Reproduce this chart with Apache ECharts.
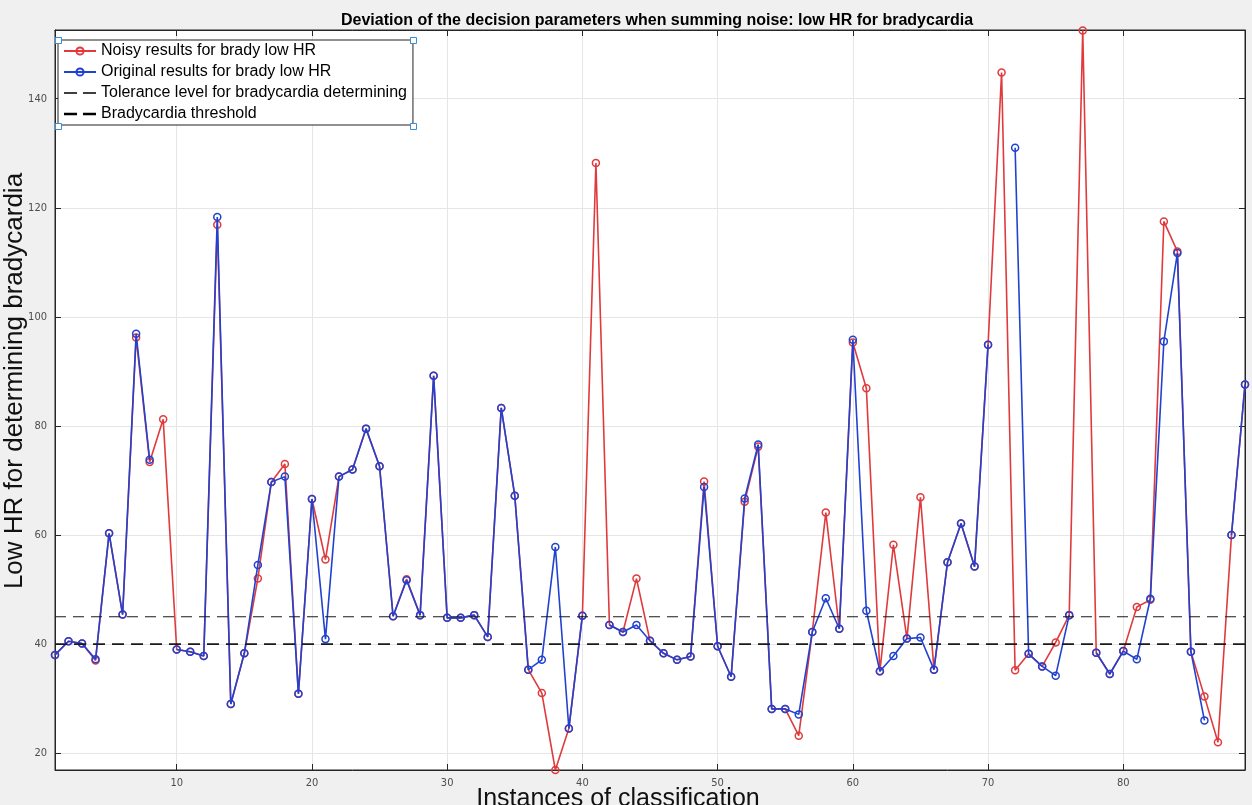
<!DOCTYPE html>
<html>
<head>
<meta charset="utf-8">
<script src="https://cdn.jsdelivr.net/npm/echarts@6/dist/echarts.min.js"></script>
<style>
html,body{margin:0;padding:0;background:#f0f0f0;}
#chart{width:1252px;height:805px;}
</style>
</head>
<body>
<div id="chart"></div>
<script>
const instances = [1,2,3,4,5,6,7,8,9,10,11,12,13,14,15,16,17,18,19,20,21,22,23,24,25,26,27,28,29,30,31,32,33,34,35,36,37,38,39,40,41,42,43,44,45,46,47,48,49,50,51,52,53,54,55,56,57,58,59,60,61,62,63,64,65,66,67,68,69,70,71,72,73,74,75,76,77,78,79,80,81,82,83,84,85,86,87,88,89];

const noisyHR = [38.0,40.5,40.1,37.0,60.3,45.4,96.2,73.4,81.2,39.0,
  38.6,37.8,116.9,29.0,38.3,52.0,69.7,73.0,30.9,66.6,
  55.5,70.7,72.0,79.5,72.6,45.1,51.9,45.3,89.2,44.8,
  44.8,45.3,41.3,83.3,67.2,35.3,31.0,16.9,24.5,45.2,
  128.2,43.5,42.2,52.0,40.6,38.3,37.1,37.7,69.8,39.6,
  34.0,66.1,76.2,28.1,28.1,23.2,42.2,64.1,42.8,95.3,
  86.9,35.0,58.2,41.0,66.9,35.3,55.0,62.1,54.2,94.9,
  144.8,35.2,38.2,35.9,40.3,45.3,152.5,38.4,34.5,38.7,
  46.8,48.1,117.5,112.0,38.6,30.4,22.0,60.0,87.6];

const originalHR = [38.0,40.5,40.1,37.2,60.3,45.4,96.9,73.8,null,39.0,
  38.6,37.8,118.3,29.0,38.3,54.5,69.7,70.7,30.9,66.6,
  40.9,70.7,72.0,79.5,72.6,45.1,51.7,45.3,89.2,44.8,
  44.8,45.3,41.3,83.3,67.2,35.3,37.1,57.8,24.5,45.2,
  null,43.5,42.2,43.5,40.6,38.3,37.1,37.7,68.8,39.6,
  34.0,66.7,76.6,28.1,28.1,27.1,42.2,48.4,42.8,95.8,
  46.1,35.0,37.8,41.0,41.2,35.3,55.0,62.1,54.2,94.9,
  null,131.0,38.2,35.9,34.2,45.3,null,38.4,34.5,38.7,
  37.2,48.3,95.5,111.7,38.6,26.0,null,60.0,87.6];

const toleranceLevel = 45;
const bradyThreshold = 40;
const yRange = [16.9, 152.6];
const xRange = [1, 89];

const seriesNames = [
  'Noisy results for brady low HR',
  'Original results for brady low HR',
  'Tolerance level for bradycardia determining',
  'Bradycardia threshold'
];
const titleText = 'Deviation of the decision parameters when summing noise: low HR for bradycardia';
const xLabel = 'Instances of classification';
const yLabel = 'Low HR for determining bradycardia';

const RED = '#e03a3c';
const BLUE = '#2142d0';

function pairs(vals){ return instances.map((x,i)=>[x, vals[i]==null ? '-' : vals[i]]); }
function hline(v){ return [[xRange[0], v],[xRange[1], v]]; }

const tickFont = "'Liberation Sans Narrow','DejaVu Sans Condensed','Liberation Sans',sans-serif";
const mainFont = "'Liberation Sans',Arial,sans-serif";
const AX = '#262626';

const chart = echarts.init(document.getElementById('chart'), null, {renderer:'canvas'});
const option = {
  animation: false,
  backgroundColor: '#f0f0f0',
  title: {
    text: titleText,
    left: 336, top: 8,
    textStyle: {fontFamily:mainFont, fontWeight:'bold', fontSize:16, color:'#000'}
  },
  grid: {left:55, right:7, top:30, bottom:35, show:true, backgroundColor:'#ffffff',
         borderColor:AX, borderWidth:1, containLabel:false, outerBoundsMode:'none'},
  legend: {
    orient:'vertical', left:58, top:40,
    padding:[3,6,3,5], itemGap:5, itemWidth:32, itemHeight:9,
    backgroundColor:'#ffffff', borderColor:'#222', borderWidth:1,
    textStyle:{fontFamily:mainFont, fontSize:16, color:'#000'},
    data: [
      {name: seriesNames[0]},
      {name: seriesNames[1]},
      {name: seriesNames[2], icon:'path://M0,0H11V1.3H0Z M16,0H27V1.3H16Z', itemStyle:{color:'#000'}},
      {name: seriesNames[3], icon:'path://M0,0H11V2.2H0Z M16,0H27V2.2H16Z', itemStyle:{color:'#000'}}
    ]
  },
  xAxis: [{
    type:'value', min:xRange[0], max:xRange[1], splitNumber:9,
    axisLine:{show:true, lineStyle:{color:AX}},
    axisTick:{show:true, inside:true, length:6, lineStyle:{color:AX}},
    axisLabel:{showMinLabel:false, showMaxLabel:false, fontFamily:tickFont, fontSize:11, color:'#4d4d4d', margin:8},
    splitLine:{show:true, lineStyle:{color:'#e6e6e6', width:1}},
    name: xLabel, nameLocation:'middle', nameGap:17, nameMoveOverlap:false,
    nameTextStyle:{fontFamily:mainFont, fontSize:25, color:'#111', padding:[0,64,0,0]}
  },{
    type:'value', position:'top', min:xRange[0], max:xRange[1], splitNumber:9,
    axisLine:{show:true, lineStyle:{color:AX}},
    axisTick:{show:true, inside:true, length:6, lineStyle:{color:AX}},
    axisLabel:{show:false}, splitLine:{show:false}
  }],
  yAxis: [{
    type:'value', min:yRange[0], max:yRange[1], splitNumber:7,
    axisLine:{show:true, lineStyle:{color:AX}},
    axisTick:{show:true, inside:true, length:6, lineStyle:{color:AX}},
    axisLabel:{showMinLabel:false, showMaxLabel:false, fontFamily:tickFont, fontSize:11, color:'#4d4d4d', margin:8},
    splitLine:{show:true, lineStyle:{color:'#e6e6e6', width:1}},
    name: yLabel, nameLocation:'middle', nameGap:27, nameMoveOverlap:false,
    nameTextStyle:{fontFamily:mainFont, fontSize:26, color:'#111', padding:[0,0,0,38]}
  },{
    type:'value', position:'right', min:yRange[0], max:yRange[1], splitNumber:7,
    axisLine:{show:true, lineStyle:{color:AX}},
    axisTick:{show:true, inside:true, length:6, lineStyle:{color:AX}},
    axisLabel:{show:false}, splitLine:{show:false}
  }],
  series: [
    {
      name: seriesNames[0], type:'line', data: pairs(noisyHR),
      symbol:'circle', symbolSize:7, showAllSymbol:true, connectNulls:false,
      lineStyle:{color:RED, width:1.6},
      itemStyle:{color:'rgba(255,255,255,0)', borderColor:RED, borderWidth:1.5},
      z:2
    },
    {
      name: seriesNames[1], type:'line', data: pairs(originalHR),
      symbol:'circle', symbolSize:7, showAllSymbol:true, connectNulls:false,
      lineStyle:{color:BLUE, width:1.6},
      itemStyle:{color:'rgba(255,255,255,0)', borderColor:BLUE, borderWidth:1.5},
      z:3
    },
    {
      name: seriesNames[2], type:'line', data: hline(toleranceLevel), symbol:'none',
      lineStyle:{color:'#1a1a1a', width:1, type:[11,7]}, itemStyle:{color:'#1a1a1a'}, z:4
    },
    {
      name: seriesNames[3], type:'line', data: hline(bradyThreshold), symbol:'none',
      lineStyle:{color:'#1a1a1a', width:1.8, type:[12,7]}, itemStyle:{color:'#1a1a1a'}, z:4
    }
  ],
  graphic: [
    {type:'rect', left:55, top:37, shape:{width:6,height:6}, style:{fill:'#ffffff', stroke:'#3b8ed6', lineWidth:1}, z:100},
    {type:'rect', left:410, top:37, shape:{width:6,height:6}, style:{fill:'#ffffff', stroke:'#3b8ed6', lineWidth:1}, z:100},
    {type:'rect', left:55, top:123, shape:{width:6,height:6}, style:{fill:'#ffffff', stroke:'#3b8ed6', lineWidth:1}, z:100},
    {type:'rect', left:410, top:123, shape:{width:6,height:6}, style:{fill:'#ffffff', stroke:'#3b8ed6', lineWidth:1}, z:100}
  ]
};
chart.setOption(option);
</script>
</body>
</html>
